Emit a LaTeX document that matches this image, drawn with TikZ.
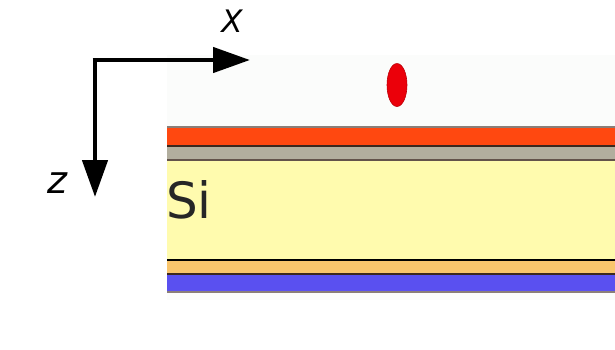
\documentclass[tikz,border=0pt]{standalone}
\usepackage{fontspec}
\setsansfont{DejaVu Sans}
\usetikzlibrary{arrows.meta,shapes.geometric}
\definecolor{panelbg}{RGB}{251,252,251}
\definecolor{redlayer}{RGB}{255,72,16}
\definecolor{graylayer}{RGB}{178,174,158}
\definecolor{silayer}{RGB}{255,251,174}
\definecolor{orangelayer}{RGB}{249,197,108}
\definecolor{bluelayer}{RGB}{90,80,240}
\definecolor{edgedark}{RGB}{60,40,30}
\definecolor{dotred}{RGB}{235,0,10}
\tikzset{
  sep/.style={draw=edgedark, line width=1.3pt},
  axis/.style={line width=4.6pt, -{Triangle[length=37pt,width=25pt]}},
  axlabel/.style={font=\sffamily\itshape\fontsize{31}{31}\selectfont, inner sep=0pt},
}
\begin{document}
\begin{tikzpicture}[x=1pt,y=-1pt]
\useasboundingbox (0,0) rectangle (615,349);
\fill[white] (0,0) rectangle (615,349);
% faint panel
\fill[panelbg] (167,55) rectangle (615,300);
% layers
\fill[redlayer] (167,127) rectangle (616,146);
\fill[graylayer] (167,146) rectangle (616,160);
\fill[silayer] (167,160) rectangle (616,260);
\fill[orangelayer] (167,260) rectangle (616,274);
\fill[bluelayer] (167,274) rectangle (616,292);
\draw[sep, draw=edgedark!60] (167,127) -- (616,127);
\draw[sep] (167,146) -- (616,146);
\draw[sep, draw=edgedark!80] (167,160) -- (616,160);
\draw[sep, draw=black] (167,260) -- (616,260);
\draw[sep] (167,274) -- (616,274);
\draw[sep, draw=edgedark!60] (167,292) -- (616,292);
\node[anchor=base west, inner sep=0pt, font=\sffamily\fontsize{50}{50}\selectfont, text=black!85] (si) at (166,218) {Si};
% red dot
\node[ellipse, fill=dotred, draw=dotred!80!black, line width=0.6pt, minimum width=20pt, minimum height=43pt, inner sep=0pt] (dot) at (397,85) {};
% axes
\coordinate (O) at (95,60);
\coordinate (xe) at (250,60);
\coordinate (ze) at (95,197);
\draw[axis] ([xshift=-2.3pt]O) -- (xe);
\draw[axis] ([yshift=-2.3pt]O) -- (ze);
\node[axlabel, anchor=base] (xl) at (232,32) {X};
\node[axlabel, anchor=base, font=\sffamily\itshape\fontsize{38}{38}\selectfont] (zl) at (57,193) {z};
\end{tikzpicture}
\end{document}
